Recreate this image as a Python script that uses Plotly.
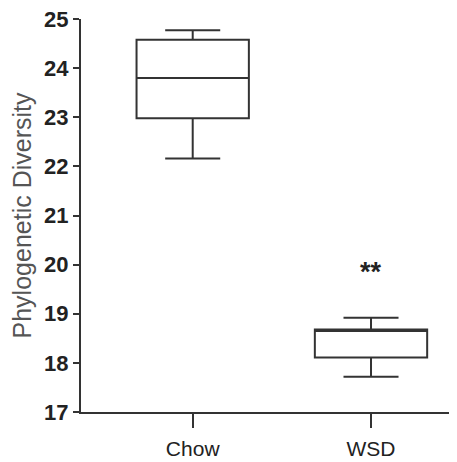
import plotly.graph_objects as go

groups = ["Chow", "WSD"]
lower_whisker = [22.16, 17.72]
q1_vals = [22.98, 18.11]
medians = [23.80, 18.65]
q3_vals = [24.58, 18.68]
upper_whisker = [24.77, 18.92]
y_ticks = [17, 18, 19, 20, 21, 22, 23, 24, 25]
sig_label = "**"
sig_group = "WSD"
sig_y = 19.85

line_col = "#333333"
sans = "Liberation Sans, Arial, sans-serif"

fig = go.Figure()
fig.add_trace(go.Box(
    x=groups,
    q1=q1_vals,
    median=medians,
    q3=q3_vals,
    lowerfence=lower_whisker,
    upperfence=upper_whisker,
    width=0.63,
    whiskerwidth=0.49,
    fillcolor="rgba(0,0,0,0)",
    line=dict(color=line_col, width=2),
    boxpoints=False,
    hoverinfo="skip",
    showlegend=False,
))

fig.add_annotation(
    x=sig_group, y=sig_y, text=sig_label, showarrow=False,
    font=dict(family=sans, size=27, color="#222222", weight="bold"),
    xanchor="center", yanchor="middle",
)

fig.update_layout(
    width=457, height=462,
    margin=dict(l=73, r=8, t=11, b=58),
    paper_bgcolor="white", plot_bgcolor="white",
    xaxis=dict(
        type="category",
        range=[-0.6265, 1.4823],
        automargin=False,
        showline=True, linecolor=line_col, linewidth=2,
        ticks="outside", ticklen=14, tickwidth=2, tickcolor=line_col,
        ticklabelstandoff=3,
        tickfont=dict(family=sans, size=21, color="#222222"),
        showgrid=False, zeroline=False,
    ),
    yaxis=dict(
        range=[17, 25],
        tickvals=y_ticks,
        automargin=False,
        ticklabeloverflow="allow",
        showline=True, linecolor=line_col, linewidth=2,
        ticks="outside", ticklen=6, tickwidth=2, tickcolor=line_col,
        ticklabelstandoff=0,
        tickfont=dict(family=sans, size=22, color="#222222", weight="bold"),
        showgrid=False, zeroline=False,
        title=dict(text="Phylogenetic Diversity",
                   font=dict(family=sans, size=25, color="#555555"),
                   standoff=6),
    ),
)

fig.write_html("out.html")
